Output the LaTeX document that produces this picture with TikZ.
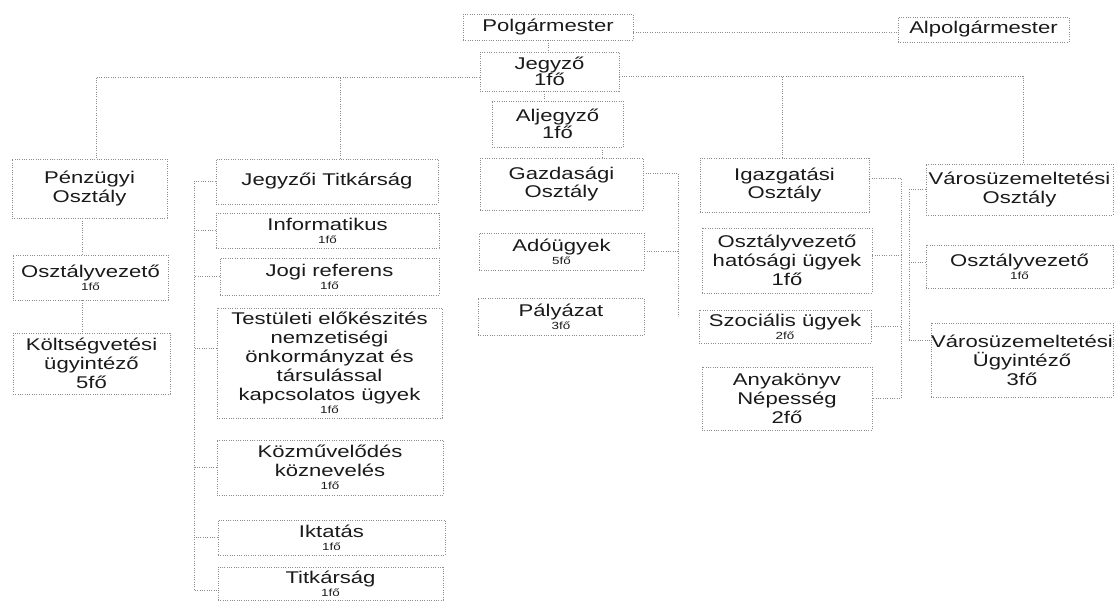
\documentclass[tikz,border=0pt]{standalone}
\usepackage{fontspec}
\setmainfont{Liberation Sans}[FakeStretch=1.3]
\usetikzlibrary{calc}
\definecolor{ink}{HTML}{1A1A1A}
\definecolor{rule}{HTML}{8C8C8C}
\newcommand{\kis}[1]{{\fontsize{8.8}{9.5}\selectfont #1}}
\tikzset{
  box/.style={
    draw=rule, line width=0.7pt, dash pattern=on 0.8pt off 1.2pt,
    inner sep=0pt, align=center, text=ink,
    font=\fontsize{14.5}{16.2}\selectfont,
  },
  wh/.style 2 args={minimum width=#1*0.3mm, minimum height=#2*0.3mm},
  link/.style={draw=rule, line width=0.7pt, dash pattern=on 0.8pt off 1.2pt},
}

\begin{document}
\begin{tikzpicture}[x=0.3mm, y=-0.3mm]
  \useasboundingbox (0,0) rectangle (1115,601);

  % vezetes
  \node[box, wh={170}{26}] (polg)     at (548,27)     {Polgármester};
  \node[box, wh={171}{25}] (alpolg)   at (983.5,29.5) {Alpolgármester};
  \node[box, wh={139}{39}] (jegyzo)   at (549.5,71.5) {Jegyző\\[-2pt]1fő};
  \node[box, wh={131}{46}] (aljegyzo) at (557.5,124)  {Aljegyző\\[-2pt]1fő};

  % Penzugyi Osztaly
  \node[box, wh={155}{59}] (penzugy) at (89.5,188.5) {Pénzügyi\\Osztály};
  \node[box, wh={155}{45}] (penzov)  at (90.5,277.5) {Osztályvezető\\[-5pt]\kis{1fő}};
  \node[box, wh={157}{61}] (koltseg) at (91.5,363.5) {Költségvetési\\ügyintéző\\5fő};

  % Jegyzoi Titkarsag
  \node[box, wh={222}{45}]  (titkarsag) at (327,181.5) {Jegyzői Titkárság};
  \node[box, wh={223}{35}]  (info)      at (327.5,230.5) {Informatikus\\[-5pt]\kis{1fő}};
  \node[box, wh={219}{37}]  (jogi)      at (329.5,276.5) {Jogi referens\\[-5pt]\kis{1fő}};
  \node[box, wh={225}{110}] (testulet)  at (329.5,363)
    {Testületi előkészités\\nemzetiségi\\önkormányzat és\\társulással\\kapcsolatos ügyek\\[-5pt]\kis{1fő}};
  \node[box, wh={226}{55}]  (kozmuv)    at (330,467.5) {Közművelődés\\köznevelés\\[-5pt]\kis{1fő}};
  \node[box, wh={227}{35}]  (iktatas)   at (331.5,537.5) {Iktatás\\[-5pt]\kis{1fő}};
  \node[box, wh={225}{33}]  (titkar)    at (330.5,583.5) {Titkárság\\[-5pt]\kis{1fő}};

  % Gazdasagi Osztaly
  \node[box, wh={163}{52}] (gazdasag) at (561.5,184)   {Gazdasági\\Osztály};
  \node[box, wh={165}{37}] (adougy)   at (561.5,251.5) {Adóügyek\\[-5pt]\kis{5fő}};
  \node[box, wh={166}{37}] (palyazat) at (561,316.5)   {Pályázat\\[-5pt]\kis{3fő}};

  % Igazgatasi Osztaly
  \node[box, wh={169}{54}] (igazgatas) at (784.5,185)  {Igazgatási\\Osztály};
  \node[box, wh={170}{65}] (hatosag)   at (787,260.5)  {Osztályvezető\\hatósági ügyek\\1fő};
  \node[box, wh={172}{33}] (szocial)   at (785,326.5)  {Szociális ügyek\\[-5pt]\kis{2fő}};
  \node[box, wh={170}{63}] (anyakonyv) at (787,398.5)  {Anyakönyv\\Népesség\\2fő};

  % Varosuzemeltetesi Osztaly
  \node[box, wh={187}{51}] (varos)    at (1019.5,189.5) {Városüzemeltetési\\Osztály};
  \node[box, wh={187}{43}] (varosov)  at (1019.5,266.5) {Osztályvezető\\[-5pt]\kis{1fő}};
  \node[box, wh={182}{74}] (varosugy) at (1022,360)     {Városüzemeltetési\\Ügyintéző\\3fő};

  % felso kapcsolatok
  \draw[link] ($(polg.east)+(0,5)$) coordinate (t0) -- (t0 -| alpolg.west);
  \draw[link] (polg.south) -- (polg.south |- jegyzo.north);
  \draw[link] ($(jegyzo.south)+(-5,0)$) coordinate (t1) -- (t1 |- aljegyzo.north);
  \draw[link] ($(aljegyzo.south)+(45,0)$) coordinate (t2) -- (t2 |- gazdasag.north);

  % bal es jobb gyujtovonal
  \coordinate (lbus) at ($(jegyzo.west)+(0,5.5)$);
  \draw[link] (lbus) -| ($(penzugy.north)+(6.5,0)$);
  \draw[link] ($(titkarsag.north)+(13,0)$) coordinate (t3) -- (t3 |- lbus);
  \coordinate (rbus) at ($(jegyzo.east)+(0,4.5)$);
  \draw[link] (rbus) -| ($(varos.north)+(3.5,0)$);
  \draw[link] ($(igazgatas.north)+(-2.5,0)$) coordinate (t4) -- (t4 |- rbus);

  % Penzugyi lanc
  \draw[link] ($(penzugy.south)+(-7.5,0)$) coordinate (t5) -- (t5 |- penzov.north);
  \draw[link] (t5 |- penzov.south) -- (t5 |- koltseg.north);

  % Titkarsag sin
  \coordinate (jtrail) at (194,0);
  \coordinate (titkin) at ($(titkar.west)+(0,6.5)$);
  \draw[link] (titkarsag.west) -| (jtrail |- titkin) -- (titkin);
  \foreach \n in {info, jogi, kozmuv, iktatas}
    \draw[link] (\n.west) -- (\n.west -| jtrail);
  \draw[link] ($(testulet.west)+(0,-15)$) coordinate (t6) -- (t6 -| jtrail);

  % Gazdasagi sin
  \coordinate (gzrail) at (678,0);
  \draw[link] ($(gazdasag.east)+(0,-11)$) -| (gzrail |- palyazat.east);
  \draw[link] (adougy.east) -- (adougy.east -| gzrail);

  % Igazgatasi sin
  \coordinate (igrail) at (901,0);
  \draw[link] ($(igazgatas.east)+(0,-7)$) -| (igrail |- anyakonyv.east) -- (anyakonyv.east);
  \draw[link] ($(hatosag.east)+(0,-5)$) coordinate (t7) -- (t7 -| igrail);
  \draw[link] (szocial.east) -- (szocial.east -| igrail);

  % Varosuzemeltetesi sin
  \coordinate (vurail) at (909,0);
  \coordinate (vuin) at ($(varosugy.west)+(0,-20)$);
  \draw[link] (varos.west) -| (vurail |- vuin) -- (vuin);
  \draw[link] ($(varosov.west)+(0,-4.5)$) coordinate (t8) -- (t8 -| vurail);
\end{tikzpicture}
\end{document}
